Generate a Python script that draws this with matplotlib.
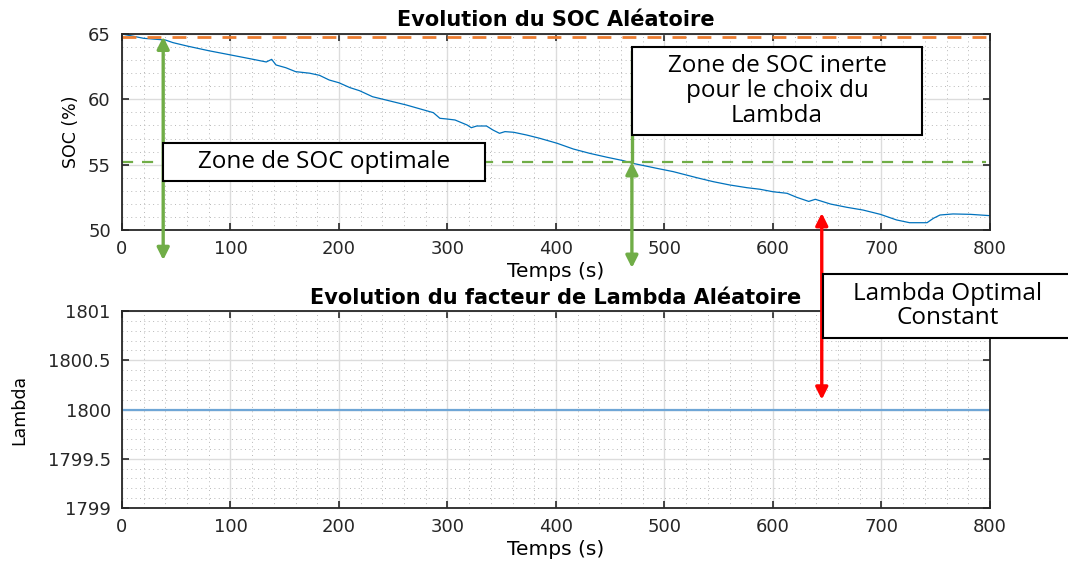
import matplotlib.pyplot as plt
from matplotlib.patches import Rectangle, ConnectionPatch
from matplotlib.ticker import MultipleLocator

# SOC curve
temps = [0, 20, 40, 47, 60, 80, 100, 121, 133, 138, 142, 151, 160, 173, 182,
         191, 200, 210, 219, 231, 262, 287, 293, 299, 307, 318, 322, 327, 336,
         342, 348, 353, 361, 373, 385, 401, 416, 431, 447, 462, 471, 493, 508,
         530, 545, 560, 576, 588, 600, 613, 622, 633, 639, 643, 653, 668, 683,
         699, 714, 726, 742, 748, 754, 766, 782, 800]
soc = [65.0, 64.67, 64.54, 64.34, 64.08, 63.72, 63.4, 63.06, 62.86, 63.06,
       62.63, 62.42, 62.12, 62.0, 61.84, 61.48, 61.27, 60.9, 60.66, 60.2,
       59.57, 58.98, 58.55, 58.5, 58.42, 58.04, 57.83, 57.96, 57.96, 57.65,
       57.4, 57.53, 57.48, 57.27, 57.02, 56.64, 56.2, 55.87, 55.57, 55.31,
       55.1, 54.72, 54.47, 54.0, 53.7, 53.45, 53.24, 53.12, 52.93, 52.81,
       52.5, 52.19, 52.35, 52.25, 51.99, 51.74, 51.53, 51.2, 50.77, 50.56,
       50.56, 50.9, 51.15, 51.23, 51.2, 51.1]

# lambda stays constant
temps_lambda = [0, 800]
lambda_vals = [1800, 1800]

soc_max = 64.8
soc_opt = 55.2
t_zone1 = 38
t_zone2 = 470
t_lambda = 645

plt.rcParams['font.family'] = ['DejaVu Sans']
txt_font = ['Open Sans', 'DejaVu Sans']

fig = plt.figure(figsize=(10.68, 5.62), dpi=100)
ax1 = fig.add_axes([0.1142, 0.5907, 0.8127, 0.3488])
ax2 = fig.add_axes([0.1142, 0.0961, 0.8127, 0.3505])


def matlab_style(ax):
    ax.grid(True, which='major', color='#dcdcdc', lw=1.0)
    ax.grid(True, which='minor', color='#b8b8b8', lw=0.7, ls=(0, (1, 3.5)))
    ax.set_axisbelow(True)
    ax.tick_params(which='major', direction='in', top=True, right=True,
                   length=5, width=1.2, labelsize=13, colors='#262626', pad=7)
    ax.tick_params(axis='y', pad=8)
    ax.tick_params(which='minor', length=0)
    for s in ax.spines.values():
        s.set_linewidth(1.3)
        s.set_color('#262626')


ax1.plot(temps, soc, color='#0072BD', lw=0.9)
ax1.axhline(soc_max, xmin=0, xmax=0.995, color='#ED7D31', lw=2, ls=(0, (5, 4)))
ax1.axhline(soc_opt, xmin=0, xmax=0.995, color='#70AD47', lw=1.6, ls=(0, (5, 4)))
ax1.set_xlim(0, 800)
ax1.set_ylim(50, 65)
ax1.xaxis.set_major_locator(MultipleLocator(100))
ax1.xaxis.set_minor_locator(MultipleLocator(20))
ax1.yaxis.set_major_locator(MultipleLocator(5))
ax1.yaxis.set_minor_locator(MultipleLocator(1))
matlab_style(ax1)
ax1.set_title('Evolution du SOC Aléatoire', fontsize=15, fontweight='bold', pad=6)
ax1.set_xlabel('Temps (s)', fontsize=14.5, labelpad=3)
ax1.set_ylabel('SOC (%)', fontsize=12.5, labelpad=6)

ax2.plot(temps_lambda, lambda_vals, color='#6fa6d6', lw=1.6)
ax2.set_xlim(0, 800)
ax2.set_ylim(1799, 1801)
ax2.xaxis.set_major_locator(MultipleLocator(100))
ax2.xaxis.set_minor_locator(MultipleLocator(20))
ax2.yaxis.set_major_locator(MultipleLocator(0.5))
ax2.yaxis.set_minor_locator(MultipleLocator(0.1))
ax2.yaxis.set_major_formatter(plt.FuncFormatter(lambda v, p: f'{v:g}'))
matlab_style(ax2)
ax2.set_title('Evolution du facteur de Lambda Aléatoire', fontsize=15,
              fontweight='bold', pad=5)
ax2.set_xlabel('Temps (s)', fontsize=14.5, labelpad=3)
ax2.set_ylabel('Lambda', fontsize=12.5, labelpad=14)

green = '#70AD47'
arrow_kw = dict(arrowstyle='<|-|>', color=green, lw=2.4, mutation_scale=18,
                shrinkA=0, shrinkB=0)

# green arrows
ax1.annotate('', xy=(t_zone1, soc_max), xytext=(t_zone1, 47.7),
             arrowprops=arrow_kw, annotation_clip=False)
ax1.annotate('', xy=(t_zone2, soc_opt), xytext=(t_zone2, 47.1),
             arrowprops=arrow_kw, annotation_clip=False)
ax1.plot([t_zone2, t_zone2], [soc_opt, 63.6], color=green, lw=2.4, clip_on=False)

# red arrow spanning both plots
con = ConnectionPatch(xyA=(t_lambda, 51.3), coordsA=ax1.transData,
                      xyB=(t_lambda, 1800.1), coordsB=ax2.transData,
                      arrowstyle='<|-|>', color='red', lw=2.4,
                      mutation_scale=18, shrinkA=0, shrinkB=0, zorder=5)
fig.add_artist(con)


def text_box(x0, y0, x1, y1, text):
    # box given in pixels from top-left
    W, H = 1068, 562
    rect = Rectangle((x0 / W, 1 - y1 / H), (x1 - x0) / W, (y1 - y0) / H,
                     transform=fig.transFigure, facecolor='white',
                     edgecolor='black', lw=1.5, zorder=10)
    fig.add_artist(rect)
    fig.text((x0 + x1) / 2 / W, 1 - (y0 + y1) / 2 / H, text, ha='center',
             va='center', fontsize=17.5, family=txt_font, zorder=11,
             linespacing=1.05)


text_box(163, 143, 485, 181, 'Zone de SOC optimale')
text_box(632, 47, 922, 135, 'Zone de SOC inerte\npour le choix du\nLambda')
text_box(823, 274, 1073, 338, 'Lambda Optimal\nConstant')

fig.savefig('out.png', dpi=100)
